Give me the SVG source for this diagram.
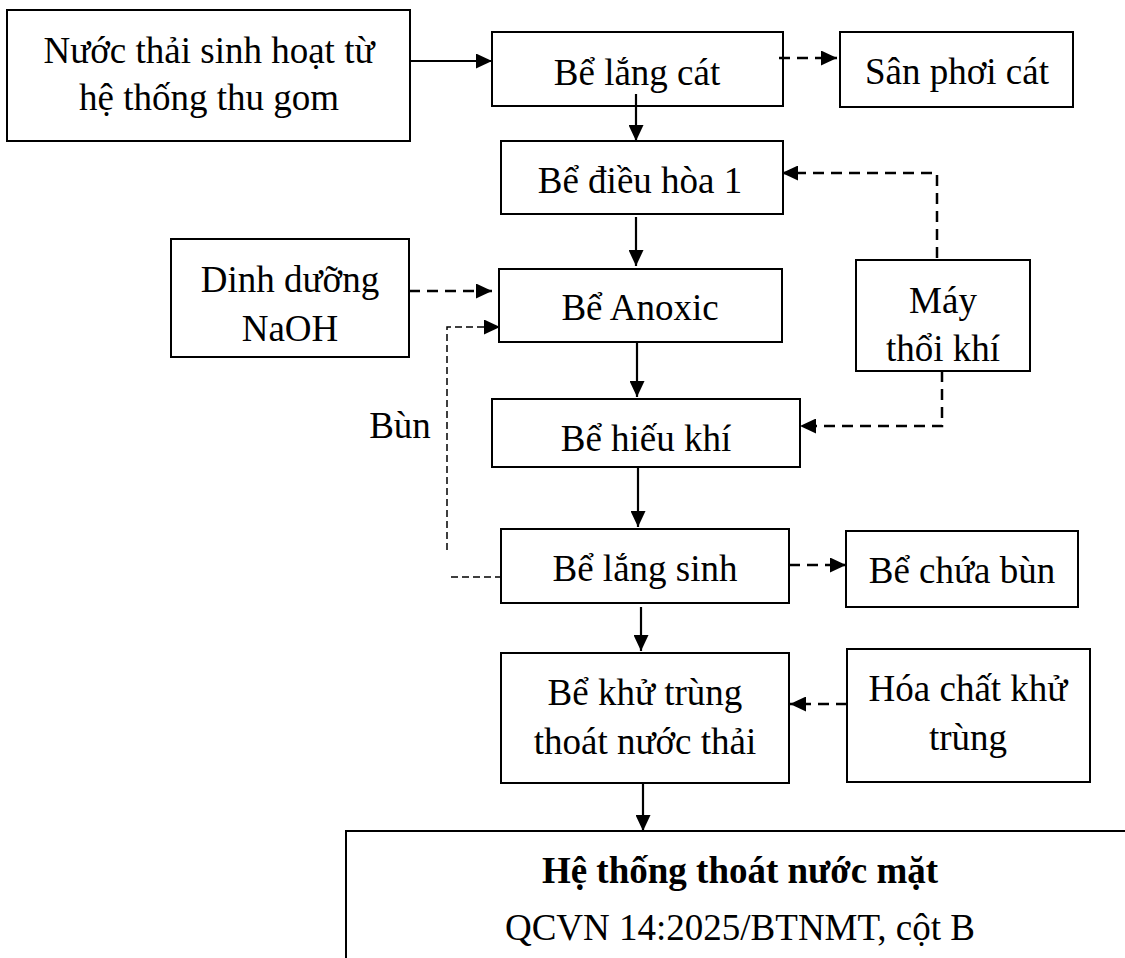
<svg xmlns="http://www.w3.org/2000/svg" width="1125" height="958" viewBox="0 0 1125 958">
<style>
.box{fill:#fff;stroke:#000;stroke-width:2}
.t{font-family:"Liberation Serif","Times New Roman",serif;font-size:37px;fill:#000;text-anchor:middle}
.b{font-weight:bold}
.solid{fill:none;stroke:#000;stroke-width:2.2}
.dash{fill:none;stroke:#000;stroke-width:2.5;stroke-dasharray:11 7}
.thin{fill:none;stroke:#000;stroke-width:1.5;stroke-dasharray:7 4}
</style>
<defs>
<marker id="ah" markerUnits="userSpaceOnUse" markerWidth="16" markerHeight="15" refX="16" refY="7.5" orient="auto">
<path d="M0,0 L16,7.5 L0,15 z" fill="#000"/>
</marker>
</defs>
<g id="n1"><rect class="box" x="7" y="10" width="403" height="131"/><text class="t" x="209" y="63">Nước thải sinh hoạt từ</text><text class="t" x="209" y="110">hệ thống thu gom</text></g>
<g id="n2"><rect class="box" x="492" y="32" width="291" height="74"/><text class="t" x="637" y="85">Bể lắng cát</text></g>
<g id="n3"><rect class="box" x="840" y="32" width="233" height="75"/><text class="t" x="957" y="84">Sân phơi cát</text></g>
<g id="n4"><rect class="box" x="501" y="141" width="282" height="73"/><text class="t" x="640" y="193">Bể điều hòa 1</text></g>
<g id="n5"><rect class="box" x="171" y="239" width="238" height="118"/><text class="t" x="290" y="292">Dinh dưỡng</text><text class="t" x="290" y="341">NaOH</text></g>
<g id="n6"><rect class="box" x="499" y="269" width="283" height="73"/><text class="t" x="640" y="320">Bể Anoxic</text></g>
<g id="n7"><rect class="box" x="856" y="260" width="174" height="111"/><text class="t" x="943" y="313">Máy</text><text class="t" x="943" y="361">thổi khí</text></g>
<g id="n8"><rect class="box" x="492" y="399" width="308" height="68"/><text class="t" x="646" y="451">Bể hiếu khí</text></g>
<g id="n9"><rect class="box" x="501" y="529" width="288" height="74"/><text class="t" x="645" y="581">Bể lắng sinh</text></g>
<g id="n10"><rect class="box" x="846" y="531" width="232" height="76"/><text class="t" x="962" y="583">Bể chứa bùn</text></g>
<g id="n11"><rect class="box" x="501" y="653" width="288" height="130"/><text class="t" x="645" y="705">Bể khử trùng</text><text class="t" x="645" y="754">thoát nước thải</text></g>
<g id="n12"><rect class="box" x="847" y="649" width="243" height="133"/><text class="t" x="968" y="701">Hóa chất khử</text><text class="t" x="968" y="750">trùng</text></g>
<g id="n13"><rect class="box" x="346" y="831" width="820" height="200"/><text class="t b" x="740" y="883">Hệ thống thoát nước mặt</text><text class="t" x="740" y="940">QCVN 14:2025/BTNMT, cột B</text></g>
<g id="lbl"><text class="t" x="400" y="438">Bùn</text></g>
<g id="connectors">
<line class="solid" x1="410" y1="61" x2="492" y2="61" marker-end="url(#ah)"/>
<line class="dash" x1="779" y1="58" x2="837" y2="58" marker-end="url(#ah)"/>
<line class="solid" x1="636" y1="94" x2="636" y2="141" marker-end="url(#ah)"/>
<path class="dash" d="M937,258 V173 H782" marker-end="url(#ah)"/>
<line class="solid" x1="636" y1="217" x2="636" y2="266" marker-end="url(#ah)"/>
<line class="dash" x1="409" y1="291" x2="492" y2="291" marker-end="url(#ah)"/>
<path class="thin" d="M447,550 V327 H500" marker-end="url(#ah)"/>
<line class="thin" x1="451" y1="577" x2="501" y2="577"/>
<line class="solid" x1="637" y1="342" x2="637" y2="397" marker-end="url(#ah)"/>
<path class="dash" d="M942,371 V426 H800" marker-end="url(#ah)"/>
<line class="solid" x1="638" y1="468" x2="638" y2="527" marker-end="url(#ah)"/>
<line class="dash" x1="789" y1="565" x2="846" y2="565" marker-end="url(#ah)"/>
<line class="solid" x1="641" y1="607" x2="641" y2="651" marker-end="url(#ah)"/>
<line class="dash" x1="847" y1="704" x2="790" y2="704" marker-end="url(#ah)"/>
<line class="solid" x1="643" y1="783" x2="643" y2="831" marker-end="url(#ah)"/>
</g>
</svg>
